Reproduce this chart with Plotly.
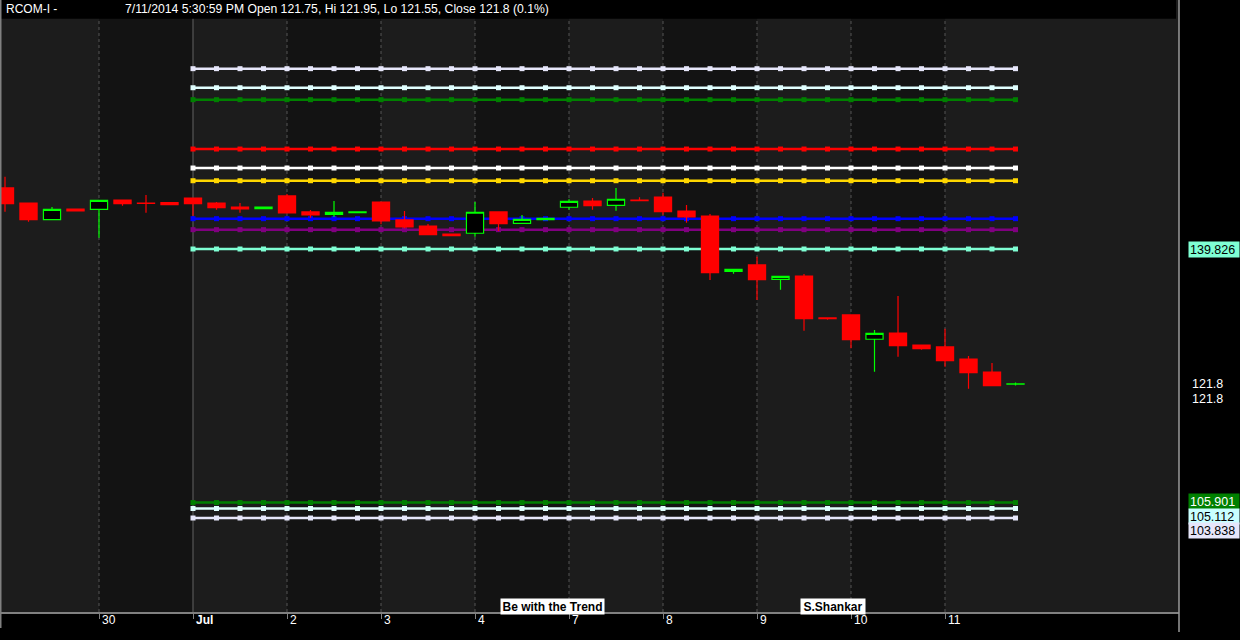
import plotly.graph_objects as go

# ---------------- data ----------------
candle_idx = list(range(44))
opens = [147.99, 145.98, 143.75, 145.18, 145.14, 146.38, 145.95, 146.02,
         146.65, 145.98, 145.44, 145.22, 146.92, 144.78, 144.47, 144.68,
         146.11, 143.71, 142.90, 141.83, 141.93, 144.78, 143.26, 143.75,
         145.41, 146.25, 145.67, 146.38, 146.78, 144.91, 144.24, 136.84,
         137.69, 135.77, 136.21, 130.60, 131.00, 127.75, 128.59, 126.98,
         126.72, 125.11, 123.37, 121.75]
highs = [149.50, 146.02, 145.44, 145.18, 146.34, 146.38, 147.05, 146.02,
         146.65, 146.11, 145.98, 145.44, 147.18, 145.04, 146.25, 144.78,
         146.11, 144.91, 143.17, 141.83, 146.11, 144.85, 144.38, 143.93,
         146.48, 146.65, 147.99, 146.74, 147.36, 145.71, 144.51, 137.11,
         138.80, 136.17, 136.48, 130.60, 131.00, 128.99, 133.54, 126.98,
         129.16, 125.51, 124.58, 121.95]
lows = [144.82, 143.48, 143.75, 144.91, 141.34, 145.62, 144.68, 145.75,
        144.28, 145.08, 144.68, 145.22, 144.64, 144.01, 144.11, 144.68,
        143.13, 142.60, 141.74, 141.61, 141.47, 142.23, 143.26, 143.75,
        145.08, 145.08, 144.95, 146.29, 144.42, 143.34, 135.68, 136.52,
        133.00, 134.38, 128.90, 130.37, 126.54, 123.41, 125.42, 126.35,
        124.08, 121.14, 121.54, 121.55]
closes = [145.89, 143.75, 145.14, 144.91, 146.34, 145.89, 145.93, 145.75,
          145.89, 145.35, 145.18, 145.44, 144.64, 144.38, 144.74, 144.78,
          143.57, 142.77, 141.74, 141.61, 144.74, 143.21, 143.80, 143.93,
          146.21, 145.62, 146.48, 146.29, 144.82, 144.13, 136.66, 137.11,
          135.72, 136.17, 130.50, 130.50, 127.69, 128.55, 126.89, 126.49,
          124.88, 123.28, 121.54, 121.80]

day_start_idx = [4, 8, 12, 16, 20, 24, 28, 32, 36, 40]
day_labels = ["30", "<b>Jul</b>", "2", "3", "4", "7", "8", "9", "10", "11"]

level_values = [163.95, 161.40, 159.80, 153.20, 150.66, 148.96, 143.88, 142.41,
                139.826, 105.901, 105.112, 103.838]
level_colors = ["#E6E6FA", "#E0FFFF", "#008000", "#FF0000", "#FFFFFF", "#FFD700",
                "#0000FF", "#800080", "#7FFFD4", "#008000", "#E0FFFF", "#E6E6FA"]
level_start, level_end = 8, 43

header_symbol = "RCOM-I -"
header_info = "7/11/2014 5:30:59 PM Open 121.75, Hi 121.95, Lo 121.55, Close 121.8 (0.1%)"

# right-hand price tags: (text, bg, fg, pixel y centre)
tag_texts = ["139.826", "121.8", "121.8", "105.901", "105.112", "103.838"]
tag_bg = ["#7FFFD4", None, None, "#008000", "#C8FFFF", "#E6E6FA"]
tag_fg = ["black", "white", "white", "white", "black", "black"]
tag_ypix = [249.8, 384, 398.7, 501.3, 516, 530.5]

# ---------------- geometry ----------------
W, H = 1240, 640
PW, PH = 1179, 612
X_RANGE = [-0.2128, 49.957]
Y_RANGE = [91.264, 173.137]


def py(ypix):
    return 1 - ypix / PH


def px(xpix):
    return xpix / PW


fig = go.Figure()

# level lines (main subplot)
for val, col in zip(level_values, level_colors):
    xs = list(range(level_start, level_end + 1))
    fig.add_trace(go.Scatter(
        x=xs, y=[val] * len(xs), mode="lines+markers",
        line=dict(color=col, width=2.5),
        marker=dict(symbol="square", size=5, color=col),
        hoverinfo="skip", showlegend=False))

# candles (overlay subplot so that they sit above the level lines)
fig.add_trace(go.Candlestick(
    x=candle_idx, open=opens, high=highs, low=lows, close=closes,
    xaxis="x2", yaxis="y2",
    increasing=dict(line=dict(color="#00FF00", width=1.2), fillcolor="#000000"),
    decreasing=dict(line=dict(color="#FF0000", width=1.2), fillcolor="#FF0000"),
    whiskerwidth=0, showlegend=False, hoverinfo="skip"))

shapes = []
# alternating day bands
band_edges = [X_RANGE[0]] + day_start_idx + [X_RANGE[1]]
for k in range(len(band_edges) - 1):
    col = "#1C1C1C" if k % 2 == 0 else "#131313"
    shapes.append(dict(type="rect", xref="x", yref="paper", x0=band_edges[k], x1=band_edges[k + 1],
                       y0=0, y1=1, fillcolor=col, line=dict(width=0), layer="below"))
# day separators
for d in day_start_idx:
    if d == 8:
        shapes.append(dict(type="line", xref="x", yref="paper", x0=d, x1=d, y0=0, y1=1,
                           line=dict(color="#4A4A4A", width=1.5), layer="below"))
    else:
        shapes.append(dict(type="line", xref="x", yref="paper", x0=d, x1=d, y0=0, y1=1,
                           line=dict(color="#555555", width=1, dash="dot"), layer="below"))
# header bar
shapes.append(dict(type="rect", xref="paper", yref="paper", x0=0, x1=px(1176), y0=py(18.7), y1=1,
                   fillcolor="#000000", line=dict(width=0), layer="above"))
# frame borders
shapes.append(dict(type="line", xref="paper", yref="paper", x0=px(0.75), x1=px(0.75), y0=py(628), y1=1,
                   line=dict(color="#808080", width=1.5), layer="above"))
shapes.append(dict(type="line", xref="paper", yref="paper", x0=1, x1=1, y0=py(632), y1=1,
                   line=dict(color="#9A9A9A", width=1.5), layer="above"))

annotations = []
annotations.append(dict(xref="paper", yref="paper", x=px(4), y=py(9), xanchor="left", yanchor="middle",
                        text=header_symbol, showarrow=False,
                        font=dict(family="Liberation Sans, Arial", size=12, color="white")))
annotations.append(dict(xref="paper", yref="paper", x=px(123), y=py(9), xanchor="left", yanchor="middle",
                        text=header_info, showarrow=False,
                        font=dict(family="Liberation Sans, Arial", size=12.2, color="white")))
for d, lab in zip(day_start_idx, day_labels):
    annotations.append(dict(xref="x", yref="paper", x=d, y=py(620), xanchor="left", yanchor="middle",
                            xshift=1, text=lab, showarrow=False,
                            font=dict(family="Liberation Sans, Arial", size=12, color="white")))
for t, bg, fg, yp in zip(tag_texts, tag_bg, tag_fg, tag_ypix):
    a = dict(xref="paper", yref="paper", x=px(1188), y=py(yp), xanchor="left", yanchor="middle",
             text=t, showarrow=False, align="left",
             font=dict(family="Liberation Sans, Arial", size=12.5, color=fg))
    if bg:
        a.update(bgcolor=bg, width=48, height=13, borderpad=1)
    else:
        a.update(x=px(1190))
    annotations.append(a)
# signature boxes
annotations.append(dict(xref="paper", yref="paper", x=px(552), y=py(606.5), xanchor="center", yanchor="middle",
                        text="<b>Be with the Trend</b>", showarrow=False, bgcolor="white",
                        borderpad=1, width=101, height=13,
                        font=dict(family="Liberation Sans, Arial", size=12, color="black")))
annotations.append(dict(xref="paper", yref="paper", x=px(832.5), y=py(606.5), xanchor="center", yanchor="middle",
                        text="<b>S.Shankar</b>", showarrow=False, bgcolor="white",
                        borderpad=1, width=62, height=13,
                        font=dict(family="Liberation Sans, Arial", size=12, color="black")))

fig.update_layout(
    width=W, height=H,
    margin=dict(l=0, r=W - PW, t=0, b=H - PH, autoexpand=False),
    paper_bgcolor="#000000", plot_bgcolor="#1C1C1C",
    showlegend=False, hovermode=False,
    boxgap=0.27, boxgroupgap=0,
    shapes=shapes, annotations=annotations,
    xaxis=dict(range=X_RANGE, showgrid=False, zeroline=False,
               tickmode="array", tickvals=day_start_idx, ticks="outside", ticklen=5,
               tickcolor="#808080", showticklabels=False,
               showline=True, linecolor="#808080", linewidth=1.5, fixedrange=True),
    yaxis=dict(range=Y_RANGE, showgrid=False, zeroline=False, showticklabels=False,
               ticks="", showline=False, fixedrange=True),
    xaxis2=dict(range=X_RANGE, overlaying="x", showgrid=False, zeroline=False,
                showticklabels=False, ticks="", showline=False, fixedrange=True,
                rangeslider=dict(visible=False)),
    yaxis2=dict(range=Y_RANGE, overlaying="y", showgrid=False, zeroline=False,
                showticklabels=False, ticks="", showline=False, fixedrange=True),
)

fig.write_html("out.html",
               config={"displayModeBar": False, "staticPlot": True},
               post_script="document.body.style.margin='0';document.body.style.background='#000';")
